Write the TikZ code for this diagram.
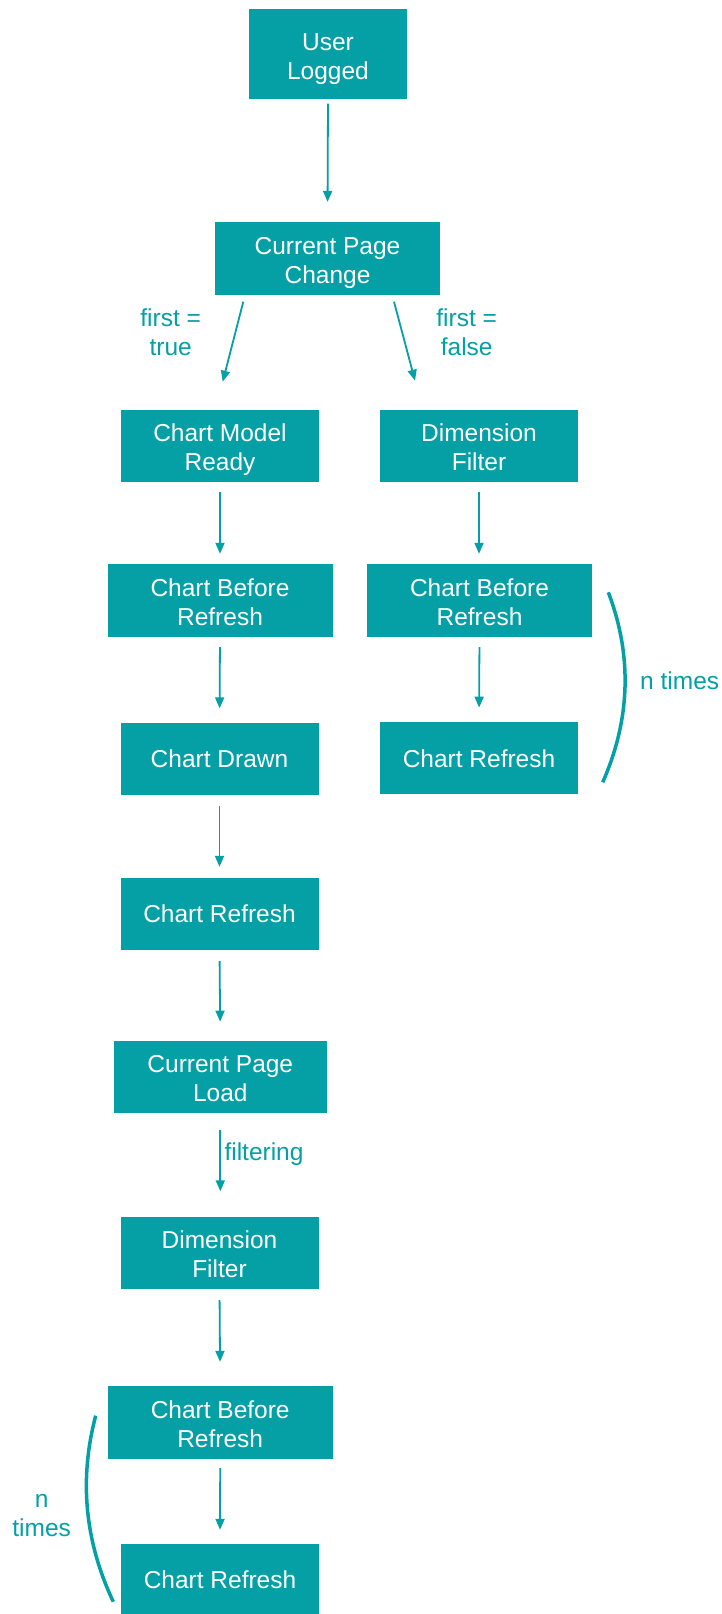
\documentclass[tikz,border=0pt]{standalone}
\usepackage{fontspec}
\setmainfont{Liberation Sans}
\usetikzlibrary{arrows.meta,calc}
\definecolor{teal1}{RGB}{5,160,166}
\newcommand\twolines[2]{\rule{0pt}{27.4pt}#1\\#2\rule[-6pt]{0pt}{6pt}}
\begin{document}
\begin{tikzpicture}[x=1pt,y=-1pt,
  box/.style={fill=teal1, text=white, inner sep=0pt, align=center, font=\fontsize{24.5}{29}\selectfont},
  lbl/.style={text=teal1, inner sep=0pt, align=center, font=\fontsize{24.5}{29}\selectfont},
  arr/.style={draw=teal1, line width=1.8pt, -{Triangle[length=11pt,width=9pt]}},
  brk/.style={draw=teal1, line width=3.5pt}]
\fill[white] (0,0) rectangle (722,1614);
\useasboundingbox (0,0) rectangle (722,1614);
% boxes
\node[box, minimum width=158pt, minimum height=90pt] (ul) at (328,54) {\twolines{User}{Logged}};
\node[box, minimum width=225pt, minimum height=73pt] (cpc) at (327.5,258.3) {\twolines{Current Page}{Change}};
\node[box, minimum width=198pt, minimum height=72pt] (cmr) at (220,445.5) {\twolines{Chart Model}{Ready}};
\node[box, minimum width=198pt, minimum height=72pt] (df1) at (479,445.5) {\twolines{Dimension}{Filter}};
\node[box, minimum width=225pt, minimum height=73pt] (cbr1) at (220,600.5) {\twolines{Chart Before}{Refresh}};
\node[box, minimum width=225pt, minimum height=73pt] (cbr2) at (479.5,600.5) {\twolines{Chart Before}{Refresh}};
\node[box, minimum width=198pt, minimum height=72pt] (cd) at (219.5,758.5) {Chart Drawn};
\node[box, minimum width=198pt, minimum height=72pt] (cr2) at (479,758.3) {Chart Refresh};
\node[box, minimum width=198pt, minimum height=72pt] (cr1) at (219.5,913.5) {Chart Refresh};
\node[box, minimum width=213pt, minimum height=72pt] (cpl) at (220.3,1076.5) {\twolines{Current Page}{Load}};
\node[box, minimum width=198pt, minimum height=72pt] (df2) at (219.5,1252.5) {\twolines{Dimension}{Filter}};
\node[box, minimum width=225pt, minimum height=73pt] (cbr3) at (220.2,1422.5) {\twolines{Chart Before}{Refresh}};
\node[box, minimum width=198pt, minimum height=72pt] (cr3) at (220,1580) {Chart Refresh};
% arrows
\draw[arr, shorten <=4.5pt, shorten >=19.7pt] (ul.south) -- (cpc.north);
\draw[arr] ($(cpc.south)+(-84.2,6.7)$) -- ($(cmr.north)+(2.7,-27.6)$);
\draw[arr] ($(cpc.south)+(66.5,6.7)$) -- ($(df1.north)+(-64,-28.6)$);
\draw[arr, shorten <=10pt, shorten >=10pt] (cmr.south) -- (cbr1.north);
\draw[arr, shorten <=10pt, shorten >=10pt] (df1.south) -- (df1.south |- cbr2.north);
\draw[arr, shorten <=10pt, shorten >=14pt] (cbr1.south) -- (cd.north);
\draw[arr, shorten <=10pt, shorten >=14.5pt] (cbr2.south) -- (cr2.north);
\draw[arr, shorten <=11.5pt, shorten >=10.5pt] (cd.south) -- (cr1.north);
\draw[arr, shorten <=11.5pt, shorten >=18.7pt] (cr1.south) -- (cpl.north);
\draw[arr, shorten <=17pt, shorten >=25pt] (cpl.south) -- (cpl.south |- df2.north);
\draw[arr, shorten <=11.5pt, shorten >=24pt] (df2.south) -- (cbr3.north);
\draw[arr, shorten <=9pt, shorten >=14pt] (cbr3.south) -- (cr3.north);
% labels
\node[lbl] (ft) at (170.7,332.5) {first =\\true};
\node[lbl] (ff) at (466.7,332.5) {first =\\false};
\node[lbl, anchor=base west] (fl) at (224.3,1160.5) {filtering};
\node[lbl, anchor=base west] (nt1) at (640,689) {n times};
\node[lbl] (nt2) at (41.7,1515.5) {n\\times};
% brackets
\draw[brk] (608.3,592.3) .. controls (632.3,655.3) and (630.7,718.7) .. (602.7,782.3);
\draw[brk] (95.7,1415.7) .. controls (78.9,1479.4) and (84.8,1541.4) .. (113.3,1601.7);
\end{tikzpicture}
\end{document}
